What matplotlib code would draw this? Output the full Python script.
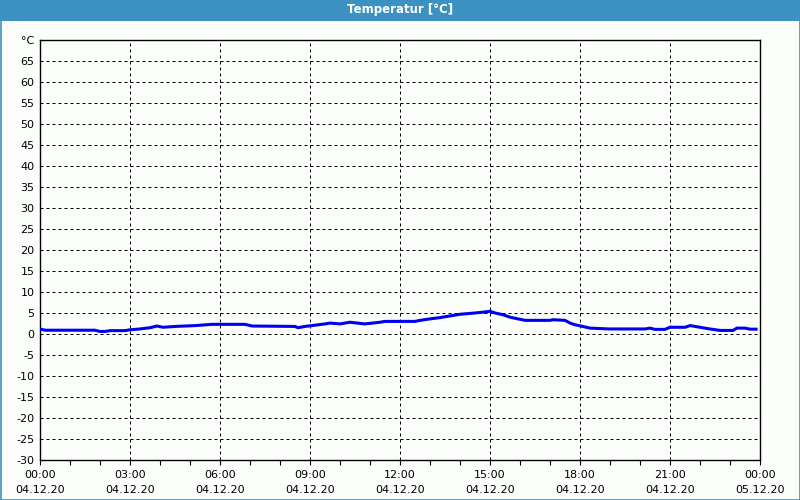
import matplotlib
matplotlib.use("Agg")
import matplotlib.pyplot as plt
from matplotlib.patches import Rectangle

# ---- data ----
hours = [0.00, 0.17, 1.83, 2.00, 2.17, 2.33, 2.83, 3.00, 3.33, 3.67, 3.90, 4.10, 4.50,
         5.17, 5.73, 6.83, 7.07, 8.50, 8.60, 8.83, 9.17, 9.50, 9.67, 10.00, 10.33,
         10.83, 11.33, 11.50, 12.50, 12.67, 13.00, 13.33, 13.67, 14.00, 14.50, 14.77,
         15.00, 15.17, 15.43, 15.67, 16.00, 16.17, 17.00, 17.10, 17.50, 17.67, 17.83,
         18.00, 18.33, 19.00, 20.17, 20.33, 20.50, 20.83, 21.00, 21.50, 21.67, 22.00,
         22.33, 22.67, 23.10, 23.23, 23.50, 23.67, 23.87]
temps = [1.2, 0.9, 0.9, 0.6, 0.6, 0.8, 0.8, 1.0, 1.2, 1.5, 1.9, 1.6, 1.8,
         2.0, 2.3, 2.3, 1.9, 1.8, 1.5, 1.8, 2.1, 2.4, 2.6, 2.4, 2.8,
         2.4, 2.8, 3.0, 3.0, 3.25, 3.6, 3.9, 4.3, 4.7, 5.0, 5.2,
         5.4, 5.0, 4.6, 4.0, 3.5, 3.25, 3.25, 3.4, 3.25, 2.6, 2.2,
         1.95, 1.4, 1.2, 1.2, 1.4, 1.1, 1.1, 1.6, 1.6, 2.0, 1.6,
         1.2, 0.85, 0.85, 1.4, 1.4, 1.15, 1.15]

x_major = [0, 3, 6, 9, 12, 15, 18, 21, 24]
x_labels = ["00:00\n04.12.20", "03:00\n04.12.20", "06:00\n04.12.20", "09:00\n04.12.20",
            "12:00\n04.12.20", "15:00\n04.12.20", "18:00\n04.12.20", "21:00\n04.12.20",
            "00:00\n05.12.20"]
y_ticks = list(range(-30, 71, 5))
y_labels = [str(v) for v in range(-30, 66, 5)] + ["°C"]
title = "Temperatur [°C]"

# ---- figure ----
bg = "#fcfefc"
fig = plt.figure(figsize=(8, 5), dpi=100, facecolor=bg)

# title bar
fig.patches.append(Rectangle((0, 1 - 20.5 / 500), 1, 20.5 / 500, transform=fig.transFigure,
                             facecolor="#3c91c3", edgecolor="none", zorder=0))
fig.text(0.5, 1 - 10 / 500, title, color="white", fontsize=8.5, fontweight="bold",
         ha="center", va="center")
# window border
fig.patches.append(Rectangle((0.5 / 800, 0.5 / 500), 799 / 800, 499 / 500, transform=fig.transFigure,
                             facecolor="none", edgecolor="#3c91c3", linewidth=1.2, zorder=5))

ax = fig.add_axes([40 / 800, 40 / 500, 720 / 800, 420 / 500])
ax.set_facecolor(bg)
ax.plot(hours, temps, color="#0000ee", linewidth=2.2, solid_joinstyle="miter", zorder=3)

ax.set_xlim(0, 24)
ax.set_ylim(-30, 70)
ax.set_xticks(x_major)
ax.set_xticklabels(x_labels, fontsize=8, linespacing=1.6)
ax.set_xticks(range(0, 25), minor=True)
ax.set_yticks(y_ticks)
ax.set_yticklabels(y_labels, fontsize=8)

ax.tick_params(axis="x", which="both", direction="out", length=3.5, width=0.8, pad=4, color="black")
ax.tick_params(axis="y", which="both", length=0, pad=4)

for s in ax.spines.values():
    s.set_color("black")
    s.set_linewidth(1.0)

for v in range(-25, 70, 5):
    ax.axhline(v, color="black", linewidth=0.72, linestyle=(0, (3, 3)), zorder=1)
for h in range(3, 24, 3):
    ax.axvline(h, color="black", linewidth=0.72, linestyle=(0, (3, 3)), zorder=1)

fig.savefig("out.png", dpi=100, facecolor=bg)
